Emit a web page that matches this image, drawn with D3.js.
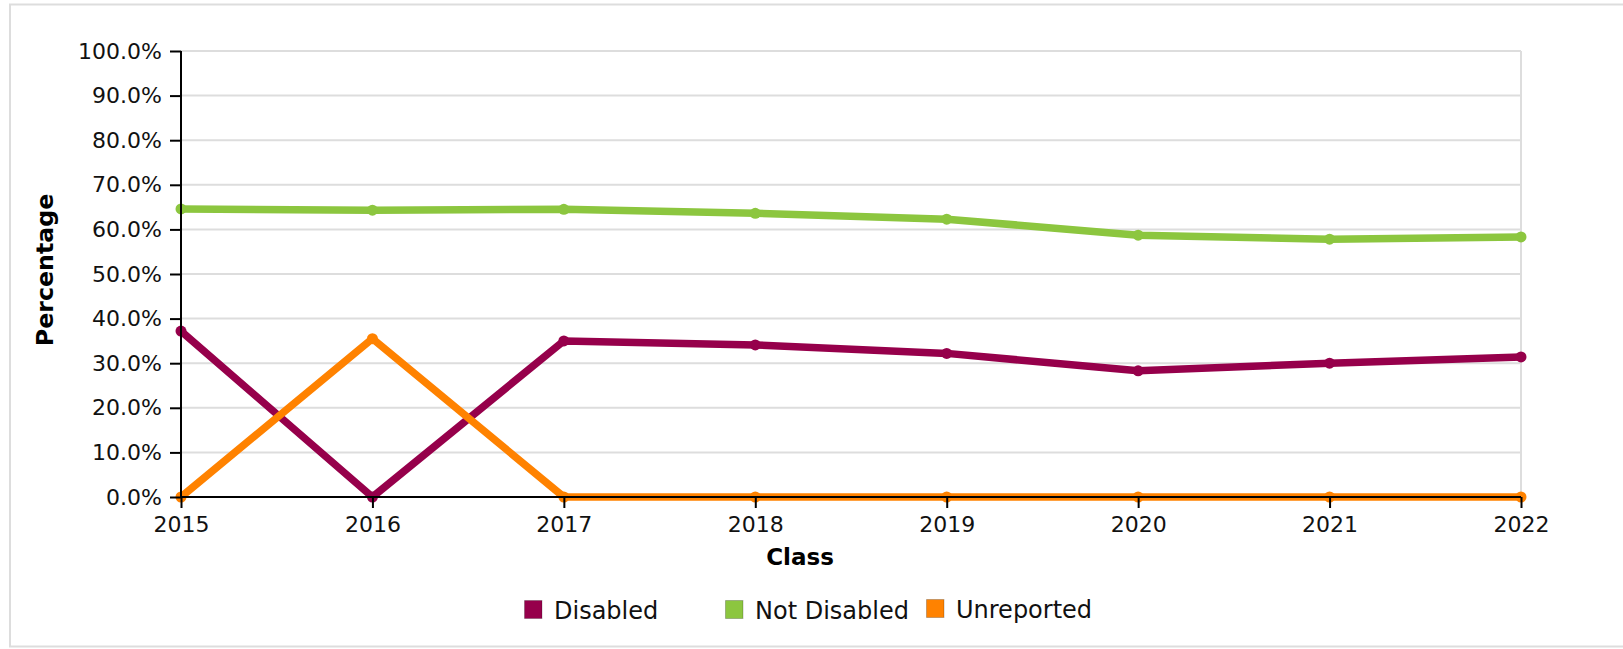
<!DOCTYPE html>
<html>
<head>
<meta charset="utf-8">
<script src="https://cdn.jsdelivr.net/npm/d3@7"></script>
<style>
  html, body { margin: 0; padding: 0; background: #fff; }
  svg { display: block; font-family: "DejaVu Sans", sans-serif; }
</style>
</head>
<body>
<svg id="chart" width="1623" height="649"></svg>
<script>
const years = ["2015", "2016", "2017", "2018", "2019", "2020", "2021", "2022"];
const disabled = [37.2, 0, 35.0, 34.1, 32.2, 28.3, 30.0, 31.4];
const notDisabled = [64.6, 64.3, 64.5, 63.6, 62.3, 58.7, 57.8, 58.3];
const unreported = [0, 35.5, 0, 0, 0, 0, 0, 0];
const yTicks = [0, 10, 20, 30, 40, 50, 60, 70, 80, 90, 100];
const seriesNames = ["Disabled", "Not Disabled", "Unreported"];
const seriesColors = ["#96004B", "#8CC63F", "#FF8200"];
const seriesValues = [disabled, notDisabled, unreported];

const svg = d3.select("#chart");
const plotL = 181, plotR = 1521, plotT = 51, plotB = 497;

// outer frame
svg.append("rect")
  .attr("x", 10).attr("y", 4.5).attr("width", 1660).attr("height", 642)
  .attr("fill", "none").attr("stroke", "#dddddd").attr("stroke-width", 2);

const x = d3.scalePoint().domain(years).range([plotL, plotR]);
const y = d3.scaleLinear().domain([0, 100]).range([plotB, plotT]);

// grid
svg.append("g").selectAll("line").data(yTicks.filter(d => d > 0)).join("line")
  .attr("x1", plotL).attr("x2", plotR)
  .attr("y1", d => y(d)).attr("y2", d => y(d))
  .attr("stroke", "#dddddd").attr("stroke-width", 2);
svg.append("line")
  .attr("x1", plotR).attr("x2", plotR).attr("y1", plotT).attr("y2", plotB)
  .attr("stroke", "#dddddd").attr("stroke-width", 2);

// lines
const line = d3.line().x((d, i) => x(years[i])).y(d => y(d));
seriesValues.forEach((vals, k) => {
  const g = svg.append("g");
  g.append("path").datum(vals).attr("d", line)
    .attr("fill", "none").attr("stroke", seriesColors[k])
    .attr("stroke-width", 7.5).attr("stroke-linejoin", "round").attr("stroke-linecap", "round");
  g.selectAll("circle").data(vals).join("circle")
    .attr("cx", (d, i) => x(years[i])).attr("cy", d => y(d)).attr("r", 5.5)
    .attr("fill", seriesColors[k]);
});

// axes
const yAxis = d3.axisLeft(y).tickValues(yTicks).tickSize(11).tickPadding(8)
  .tickFormat(d => d.toFixed(1) + "%");
const gy = svg.append("g").attr("transform", `translate(${plotL},0)`).call(yAxis);
const xAxis = d3.axisBottom(x).tickSize(11).tickPadding(8);
const gx = svg.append("g").attr("transform", `translate(0,${plotB})`).call(xAxis);
[gx, gy].forEach(g => {
  g.select(".domain").attr("stroke", "#000").attr("stroke-width", 2);
  g.selectAll(".tick line").attr("stroke", "#000").attr("stroke-width", 2);
  g.selectAll(".tick text").attr("fill", "#111").attr("font-size", 22)
    .attr("font-family", "DejaVu Sans");
});
gy.select(".domain").attr("d", `M0,${plotB}V${plotT}`);
gx.select(".domain").attr("d", `M${plotL},0H${plotR}`);

// axis titles
svg.append("text").attr("x", 800).attr("y", 565).attr("text-anchor", "middle")
  .attr("font-size", 23).attr("font-weight", "bold").attr("fill", "#000").text("Class");
svg.append("text").attr("transform", "translate(53,270) rotate(-90)").attr("text-anchor", "middle")
  .attr("font-size", 23.7).attr("font-weight", "bold").attr("fill", "#000").text("Percentage");

// legend
const legendX = [524, 725, 926];
const legendDy = [0, 0, -1];
const lg = svg.append("g").selectAll("g").data(seriesNames).join("g")
  .attr("transform", (d, i) => `translate(${legendX[i]},${600 + legendDy[i]})`);
lg.append("rect").attr("x", 0.5).attr("y", 0.5).attr("width", 17.5).attr("height", 18)
  .attr("fill", (d, i) => seriesColors[i]).attr("stroke", "rgba(0,0,0,0.22)").attr("stroke-width", 1);
lg.append("text").attr("x", 30).attr("y", 18.5).attr("font-size", 24).attr("fill", "#111").text(d => d);
</script>
</body>
</html>
